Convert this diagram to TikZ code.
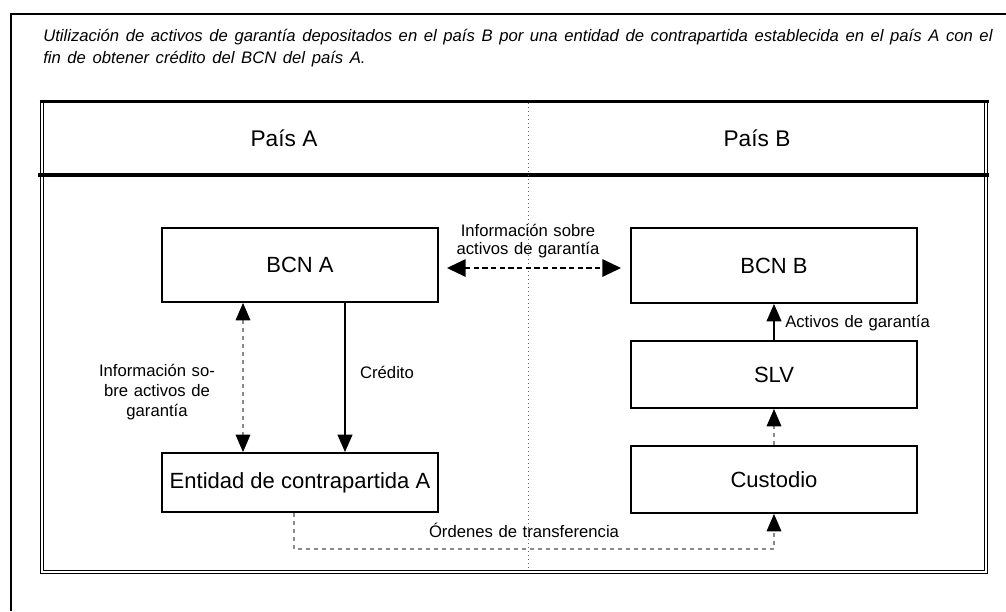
\documentclass[tikz,border=0pt]{standalone}
\usepackage{fontspec}
\setmainfont{Liberation Sans}
\usetikzlibrary{arrows.meta,calc}
\definecolor{dgray}{HTML}{8A8A8A}
\definecolor{dotgray}{HTML}{6A6A6A}
\newcommand\myttlfont{\fontsize{12.5}{16}\selectfont\itshape\spaceskip=4.95pt plus 1pt\relax}
\newcommand\mylblfont{\fontsize{12.5}{15}\selectfont\spaceskip=4.2pt plus 1pt\relax}
\newcommand\mylblfonttight{\fontsize{12.5}{13.5}\selectfont\spaceskip=4.2pt plus 1pt\relax}
\begin{document}
\begin{tikzpicture}[x=0.75pt,y=-0.75pt,
  box/.style={draw=black, line width=1.4pt, inner sep=0pt, font=\fontsize{16.5}{19}\selectfont},
  lbl/.style={inner sep=0pt, align=center, font=\mylblfont},
  hdr/.style={inner sep=0pt, font=\fontsize{17}{20}\selectfont},
  ttl/.style={inner sep=0pt, anchor=base west, font=\myttlfont},
  tipend/.style={-{Triangle[length=13pt,width=11pt,color=black,fill=black]}},
  solidarrow/.style={tipend, line width=1.4pt},
  grayarrow/.style={line width=0.8pt, draw=dgray, dash pattern=on 3pt off 3pt},
  blackdash/.style={line width=1.4pt, dash pattern=on 4pt off 2.5pt},
  frameline/.style={line width=2.2pt},
  dblline/.style={line width=1pt},
]
\useasboundingbox (0,0) rectangle (1006,611);
% outer frame (top and left)
\draw[frameline] (11,611) -- (11,14) -- (1006,14);
% title
\node[ttl] (t1) at (43,41) {Utilización de activos de garantía depositados en el país B por una entidad de contrapartida establecida en el país A con el};
\node[ttl] (t2) at (43,63) {fin de obtener crédito del BCN del país A.};
% inner frame
\draw[dblline] (40.5,101) -- (40.5,573.5) -- (987.5,573.5) -- (987.5,101);
\draw[dblline] (43.5,101) -- (43.5,570.5) -- (984.5,570.5) -- (984.5,101);
\draw[frameline] (39.5,101.5) -- (988.5,101.5);
\draw[line width=3pt] (38,174.5) -- (989,174.5);
% dotted divider
\draw[dotgray, line width=0.6pt, dash pattern=on 1pt off 2pt] (528.5,103) -- (528.5,568);
% headers
\node[hdr] (pa) at (284,138) {País A};
\node[hdr] (pb) at (757,138) {País B};
% boxes
\node[box, minimum width=207pt, minimum height=55.5pt] (bcna) at (300,265) {BCN A};
\node[box, minimum width=214.5pt, minimum height=56.25pt] (bcnb) at (774,265.5) {BCN B};
\node[box, minimum width=214.5pt, minimum height=50.25pt] (slv) at (774,374.5) {SLV};
\node[box, minimum width=214.5pt, minimum height=50.25pt] (cust) at (774,479.5) {Custodio};
\node[box, minimum width=207pt, minimum height=44.25pt] (ent) at (300,482.5) {Entidad de contrapartida A};
% coordinates for connector columns
\coordinate (xinfo) at (243,0);
\coordinate (xcred) at (345,0);
\coordinate (xord) at (294,0);
\coordinate (yord) at (0,549);
\coordinate (yinfo) at (0,268);
% horizontal dashed double arrow
\draw[blackdash, {Triangle[length=14pt,width=13pt]}-{Triangle[length=14pt,width=13pt]}]
  ([xshift=6pt]bcna.east |- yinfo) -- ([xshift=-6.75pt]bcnb.west |- yinfo);
\node[lbl, font=\mylblfonttight] (linfo) at (528,241) {Información sobre\\activos de garantía};
% left vertical gray dashed double arrow
\draw[grayarrow, {Triangle[length=13pt,width=11pt,color=black,fill=black]}-{Triangle[length=13pt,width=11pt,color=black,fill=black]}]
  (bcna.south -| xinfo) -- (ent.north -| xinfo);
\node[lbl] (linfo2) at (157,392) {Información so-\\bre activos de\\garantía};
% credit arrow
\draw[solidarrow] (bcna.south -| xcred) -- (ent.north -| xcred);
\node[lbl] (lcred) at (387,372) {Crédito};
% activos de garantia arrow
\draw[solidarrow] (slv.north) -- (bcnb.south);
\node[lbl, anchor=west] (lact) at (785,323) {Activos de garantía};
% custodio to slv
\draw[grayarrow, tipend] (cust.north) -- (slv.south);
% ordenes de transferencia
\draw[grayarrow, tipend] (ent.south -| xord) -- (xord |- yord) -- (cust.south |- yord) -- (cust.south);
\node[lbl] (lord) at (524,530) {Órdenes de transferencia};
\end{tikzpicture}
\end{document}
